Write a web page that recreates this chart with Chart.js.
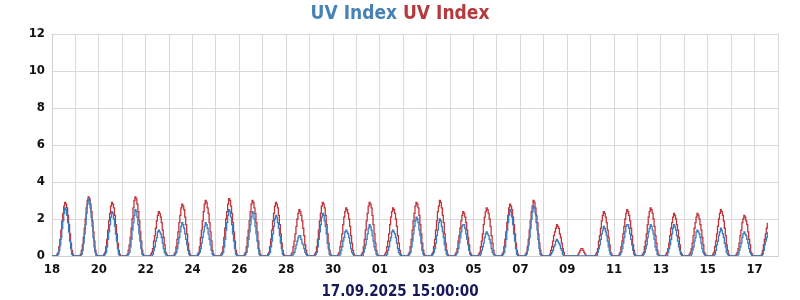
<!DOCTYPE html>
<html>
<head>
  <title>UV Index</title>
  <meta charset="utf-8" />
  <script src="https://cdn.jsdelivr.net/npm/chart.js"></script>
  <style>
    body {
      margin: 0;
      padding: 0;
      background: #fff;
    }
    #wrap {
      position: relative;
      width: 800px;
      height: 300px;
    }
    #title, #stamp {
      position: absolute;
      left: 0;
      width: 800px;
      text-align: center;
      font-family: "DejaVu Sans Condensed", "DejaVu Sans", sans-serif;
      font-weight: bold;
    }
    #title {
      top: 1px;
      font-size: 19px;
      line-height: 22px;
    }
    #title .blue { color: #4682b4; }
    #title .red { color: #b5393d; }
    #stamp {
      top: 281px;
      font-size: 15px;
      line-height: 20px;
      color: #171a5a;
    }
  </style>
</head>
<body>
  <div id="wrap">
    <div id="title"><span class="blue">UV Index</span> <span class="red">UV Index</span></div>
    <canvas id="chart" width="800" height="300"></canvas>
    <div id="stamp">17.09.2025 15:00:00</div>
  </div>

  <script>
    // day labels along the x axis (18 Aug .. 18 Sep)
    const dayLabels = ['18','19','20','21','22','23','24','25','26','27','28','29','30','31',
      '01','02','03','04','05','06','07','08','09','10','11','12','13','14','15','16','17','18'];
    const yTicks = [0, 2, 4, 6, 8, 10, 12];
    const firstHour = 5;      // each row below starts at 05:00
    const lastDayHours = 14;  // data stops on 17.09 early afternoon

    // red series, hourly values 05:00..21:00 for each day
    const uvRed = [
      [0.1,0.2,0.5,0.9,1.4,1.9,2.3,2.7,2.9,2.8,2.6,2.2,1.7,1.2,0.7,0.3,0.1],
      [0.1,0.3,0.6,1.0,1.5,2.0,2.6,3.0,3.2,3.1,2.8,2.4,1.9,1.3,0.8,0.3,0.1],
      [0.1,0.2,0.5,0.9,1.4,1.9,2.3,2.7,2.9,2.8,2.6,2.2,1.7,1.2,0.7,0.3,0.1],
      [0.1,0.3,0.6,1.0,1.5,2.0,2.6,3.0,3.2,3.1,2.8,2.4,1.9,1.3,0.8,0.3,0.1],
      [0.1,0.2,0.4,0.8,1.1,1.5,1.9,2.2,2.4,2.3,2.1,1.8,1.4,1.0,0.6,0.2,0.1],
      [0.1,0.2,0.5,0.9,1.3,1.8,2.2,2.6,2.8,2.7,2.5,2.1,1.7,1.2,0.7,0.3,0.1],
      [0.1,0.2,0.5,1.0,1.4,1.9,2.4,2.8,3.0,2.9,2.6,2.3,1.8,1.3,0.8,0.3,0.1],
      [0.1,0.2,0.5,1.0,1.5,2.0,2.4,2.8,3.1,3.0,2.7,2.3,1.8,1.3,0.8,0.3,0.1],
      [0.1,0.2,0.5,1.0,1.4,1.9,2.4,2.8,3.0,2.9,2.6,2.3,1.8,1.3,0.8,0.3,0.1],
      [0.1,0.2,0.5,0.9,1.4,1.9,2.3,2.7,2.9,2.8,2.6,2.2,1.7,1.2,0.7,0.3,0.1],
      [0.1,0.2,0.5,0.8,1.2,1.6,2.0,2.3,2.5,2.4,2.2,1.9,1.5,1.1,0.6,0.3,0.1],
      [0.1,0.2,0.5,0.9,1.4,1.9,2.3,2.7,2.9,2.8,2.6,2.2,1.7,1.2,0.7,0.3,0.1],
      [0.1,0.2,0.5,0.8,1.2,1.7,2.1,2.4,2.6,2.5,2.3,2.0,1.6,1.1,0.7,0.3,0.1],
      [0.1,0.2,0.5,0.9,1.4,1.9,2.3,2.7,2.9,2.8,2.6,2.2,1.7,1.2,0.7,0.3,0.1],
      [0.1,0.2,0.5,0.8,1.2,1.7,2.1,2.4,2.6,2.5,2.3,2.0,1.6,1.1,0.7,0.3,0.1],
      [0.1,0.2,0.5,0.9,1.4,1.9,2.3,2.7,2.9,2.8,2.6,2.2,1.7,1.2,0.7,0.3,0.1],
      [0.1,0.2,0.5,0.9,1.4,1.9,2.4,2.7,3.0,2.9,2.6,2.2,1.8,1.2,0.7,0.3,0.1],
      [0.1,0.2,0.4,0.8,1.1,1.5,1.9,2.2,2.4,2.3,2.1,1.8,1.4,1.0,0.6,0.2,0.1],
      [0.1,0.2,0.5,0.8,1.2,1.7,2.1,2.4,2.6,2.5,2.3,2.0,1.6,1.1,0.7,0.3,0.1],
      [0.1,0.2,0.5,0.9,1.3,1.8,2.2,2.6,2.8,2.7,2.5,2.1,1.7,1.2,0.7,0.3,0.1],
      [0.1,0.2,0.5,0.9,1.4,1.9,2.4,2.7,3.0,2.9,2.6,2.2,1.8,1.2,0.7,0.3,0.1],
      [0,0.1,0.3,0.5,0.8,1.1,1.3,1.5,1.7,1.6,1.5,1.2,1.0,0.7,0.4,0.2,0],
      [0,0,0,0,0,0,0.1,0.2,0.3,0.4,0.4,0.3,0.2,0.1,0,0,0],
      [0.1,0.2,0.4,0.8,1.1,1.5,1.9,2.2,2.4,2.3,2.1,1.8,1.4,1.0,0.6,0.2,0.1],
      [0.1,0.2,0.5,0.8,1.2,1.6,2.0,2.3,2.5,2.4,2.2,1.9,1.5,1.1,0.6,0.3,0.1],
      [0.1,0.2,0.5,0.8,1.2,1.7,2.1,2.4,2.6,2.5,2.3,2.0,1.6,1.1,0.7,0.3,0.1],
      [0.1,0.2,0.4,0.7,1.1,1.5,1.8,2.1,2.3,2.2,2.0,1.7,1.4,1.0,0.6,0.2,0.1],
      [0.1,0.2,0.4,0.7,1.1,1.5,1.8,2.1,2.3,2.2,2.0,1.7,1.4,1.0,0.6,0.2,0.1],
      [0.1,0.2,0.5,0.8,1.2,1.6,2.0,2.3,2.5,2.4,2.2,1.9,1.5,1.1,0.6,0.3,0.1],
      [0.1,0.2,0.4,0.7,1.1,1.4,1.8,2.0,2.2,2.1,1.9,1.7,1.3,0.9,0.6,0.2,0.1],
      [0,0,0.1,0.3,0.6,0.9,1.2,1.5,1.8]
    ];

    // blue series, hourly values 05:00..21:00 for each day
    const uvBlue = [
      [0,0.1,0.3,0.6,1.0,1.5,1.9,2.3,2.6,2.5,2.2,1.8,1.3,0.8,0.4,0.1,0],
      [0,0.1,0.3,0.7,1.2,1.7,2.3,2.8,3.1,3.0,2.6,2.1,1.6,1.0,0.5,0.2,0],
      [0,0.1,0.2,0.5,0.9,1.3,1.7,2.1,2.4,2.3,2.0,1.6,1.2,0.8,0.4,0.1,0],
      [0,0.1,0.2,0.5,0.9,1.4,1.8,2.2,2.5,2.4,2.1,1.7,1.2,0.8,0.4,0.1,0],
      [0,0,0.1,0.3,0.5,0.8,1.0,1.3,1.4,1.3,1.2,1.0,0.7,0.4,0.2,0.1,0],
      [0,0.1,0.2,0.4,0.7,1.0,1.3,1.6,1.8,1.7,1.5,1.2,0.9,0.6,0.3,0.1,0],
      [0,0.1,0.2,0.4,0.7,1.0,1.3,1.6,1.8,1.7,1.5,1.2,0.9,0.6,0.3,0.1,0],
      [0,0.1,0.2,0.5,0.9,1.4,1.8,2.2,2.5,2.4,2.1,1.7,1.2,0.8,0.4,0.1,0],
      [0,0.1,0.2,0.5,0.9,1.3,1.7,2.1,2.4,2.3,2.0,1.6,1.2,0.8,0.4,0.1,0],
      [0,0.1,0.2,0.5,0.8,1.2,1.6,2.0,2.2,2.1,1.8,1.5,1.1,0.7,0.4,0.1,0],
      [0,0,0.1,0.2,0.4,0.6,0.8,1.0,1.1,1.1,0.9,0.7,0.6,0.4,0.2,0.1,0],
      [0,0.1,0.2,0.5,0.9,1.3,1.7,2.1,2.3,2.2,1.9,1.6,1.2,0.7,0.4,0.1,0],
      [0,0,0.1,0.3,0.5,0.8,1.0,1.3,1.4,1.3,1.2,1.0,0.7,0.4,0.2,0.1,0],
      [0,0,0.2,0.4,0.6,0.9,1.2,1.5,1.7,1.6,1.4,1.1,0.8,0.5,0.3,0.1,0],
      [0,0,0.1,0.3,0.5,0.8,1.0,1.3,1.4,1.3,1.2,1.0,0.7,0.4,0.2,0.1,0],
      [0,0.1,0.2,0.5,0.8,1.2,1.6,1.9,2.1,2.0,1.8,1.4,1.1,0.7,0.3,0.1,0],
      [0,0.1,0.2,0.4,0.7,1.1,1.4,1.8,2.0,1.9,1.6,1.3,1.0,0.6,0.3,0.1,0],
      [0,0.1,0.2,0.4,0.7,1.0,1.3,1.6,1.7,1.7,1.5,1.2,0.9,0.6,0.3,0.1,0],
      [0,0,0.1,0.3,0.5,0.7,1.0,1.2,1.3,1.2,1.1,0.9,0.7,0.4,0.2,0.1,0],
      [0,0.1,0.2,0.5,0.9,1.4,1.8,2.2,2.5,2.4,2.1,1.7,1.2,0.8,0.4,0.1,0],
      [0,0.1,0.3,0.6,1.0,1.5,2.0,2.4,2.7,2.6,2.3,1.8,1.4,0.9,0.4,0.1,0],
      [0,0,0.1,0.2,0.3,0.5,0.6,0.8,0.9,0.8,0.7,0.6,0.4,0.3,0.1,0,0],
      [0,0,0,0,0,0,0,0,0,0,0,0,0,0,0,0,0],
      [0,0,0.2,0.4,0.6,0.9,1.2,1.4,1.6,1.5,1.3,1.1,0.8,0.5,0.3,0.1,0],
      [0,0.1,0.2,0.4,0.7,1.0,1.3,1.6,1.7,1.7,1.5,1.2,0.9,0.6,0.3,0.1,0],
      [0,0.1,0.2,0.4,0.6,1.0,1.3,1.5,1.7,1.6,1.4,1.2,0.9,0.5,0.3,0.1,0],
      [0,0,0.2,0.4,0.6,0.9,1.2,1.5,1.7,1.6,1.4,1.1,0.8,0.5,0.3,0.1,0],
      [0,0,0.1,0.3,0.5,0.8,1.0,1.3,1.4,1.3,1.2,1.0,0.7,0.4,0.2,0.1,0],
      [0,0,0.1,0.3,0.6,0.8,1.1,1.3,1.5,1.4,1.2,1.0,0.7,0.5,0.2,0.1,0],
      [0,0,0.1,0.3,0.5,0.7,1.0,1.2,1.3,1.2,1.1,0.9,0.7,0.4,0.2,0.1,0],
      [0,0,0,0.1,0.3,0.6,0.8,1.0,1.3]
    ];

    // turn the per-day rows into one hourly series (x = hours since 18.08 00:00)
    function hourly(rows) {
      const pts = [];
      rows.forEach((row, d) => {
        const hours = d === rows.length - 1 ? lastDayHours : 24;
        for (let h = 0; h < hours; h++) {
          const i = h - firstHour;
          const v = i >= 0 && i < row.length ? row[i] : 0;
          pts.push({ x: d * 24 + h, y: v });
        }
      });
      return pts;
    }

    const tickFont = { family: '"DejaVu Sans Condensed", "DejaVu Sans", sans-serif', weight: 'bold', size: 13 };

    const chart = new Chart(document.getElementById('chart'), {
      type: 'line',
      data: {
        datasets: [{
          label: 'UV Index',
          data: hourly(uvBlue),
          borderColor: '#3a7dbf',
          borderWidth: 1.3,
          pointRadius: 0,
          stepped: true
        }, {
          label: 'UV Index',
          data: hourly(uvRed),
          borderColor: '#c0343a',
          borderWidth: 1.3,
          pointRadius: 0,
          stepped: true
        }]
      },
      options: {
        responsive: false,
        animation: false,
        devicePixelRatio: 1,
        layout: { padding: { top: 34, right: 22, left: 0, bottom: 0 } },
        plugins: {
          legend: { display: false },
          tooltip: { enabled: false }
        },
        scales: {
          x: {
            type: 'linear',
            min: 0,
            max: (dayLabels.length - 1) * 24,
            afterFit: (s) => { s.height = 44; },
            grid: { color: '#d9d9d9', drawTicks: false },
            border: { color: '#d0d0d0' },
            ticks: {
              stepSize: 24,
              autoSkip: false,
              maxTicksLimit: 40,
              maxRotation: 0,
              padding: 6,
              color: '#111',
              font: tickFont,
              callback: (v) => {
                const i = Math.round(v / 24);
                return i % 2 === 0 ? dayLabels[i] : '';
              }
            }
          },
          y: {
            min: 0,
            max: 12,
            afterFit: (s) => { s.width = 52; },
            grid: { color: '#d9d9d9', drawTicks: false },
            border: { color: '#d0d0d0' },
            ticks: {
              stepSize: 1,
              maxTicksLimit: 20,
              padding: 7,
              color: '#111',
              font: tickFont,
              callback: (v) => yTicks.includes(v) ? String(v) : ''
            }
          }
        }
      }
    });
  </script>
</body>
</html>
